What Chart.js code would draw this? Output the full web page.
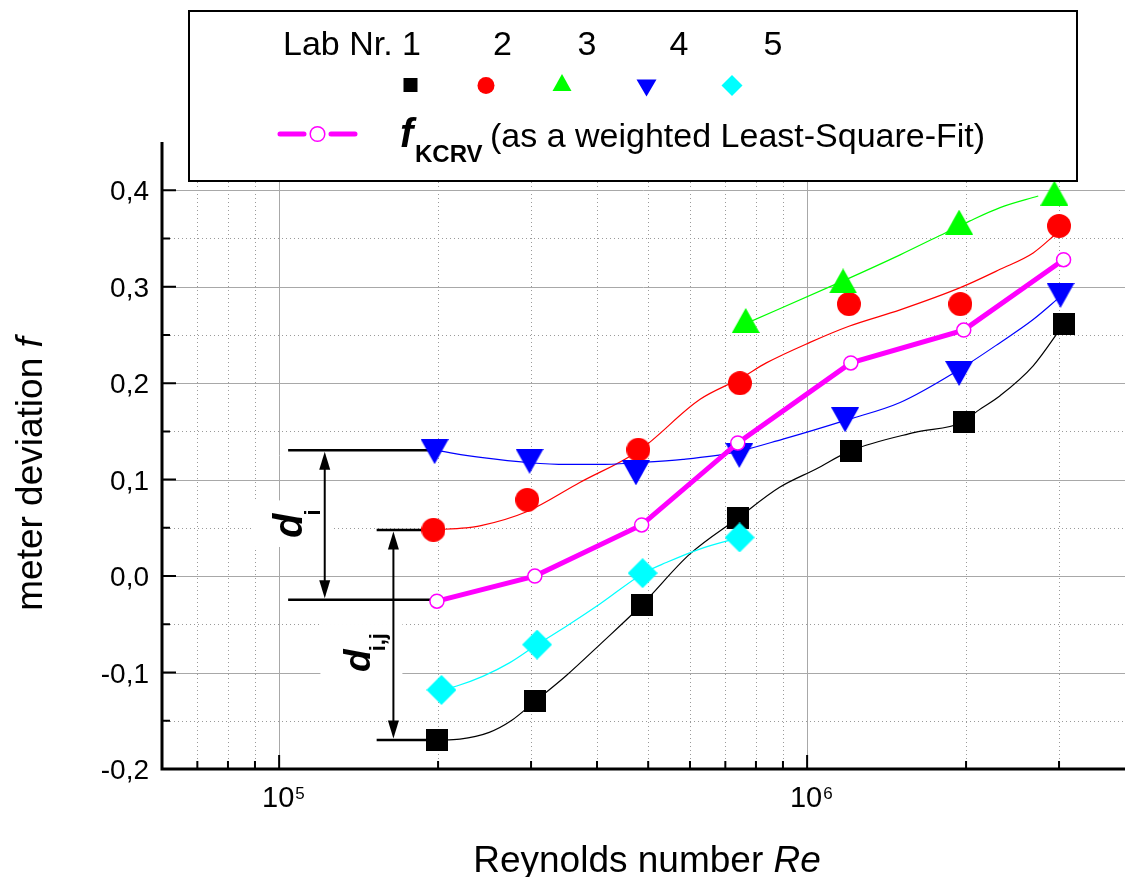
<!DOCTYPE html>
<html lang="en">
<head>
<meta charset="UTF-8">
<title>meter deviation f vs Reynolds number</title>
<script src="https://cdn.jsdelivr.net/npm/chart.js"></script>
<style>
  html, body { margin: 0; padding: 0; background: #fff; overflow: hidden; }
  #wrap { position: absolute; left: 0; top: 0; width: 1125px; height: 877px; }
</style>
</head>
<body>
<div id="wrap"><canvas id="devChart"></canvas></div>
<script>
// measured points: Reynolds number and meter deviation f per lab
const lab1Re = [1.99e5, 3.05e5, 4.86e5, 7.39e5, 1.21e6, 1.98e6, 3.06e6];
const lab1F  = [-0.170, -0.130, -0.030, 0.060, 0.130, 0.160, 0.261];
const lab2Re = [1.96e5, 2.95e5, 4.79e5, 7.46e5, 1.20e6, 1.95e6, 3.00e6];
const lab2F  = [0.048, 0.079, 0.131, 0.200, 0.282, 0.282, 0.363];
const lab3Re = [7.65e5, 1.17e6, 1.94e6, 2.94e6];
const lab3F  = [0.265, 0.306, 0.367, 0.397];
const lab4Re = [1.97e5, 2.98e5, 4.74e5, 7.44e5, 1.18e6, 1.94e6, 3.02e6];
const lab4F  = [0.129, 0.119, 0.107, 0.125, 0.162, 0.210, 0.291];
const lab5Re = [2.03e5, 3.08e5, 4.88e5, 7.45e5];
const lab5F  = [-0.118, -0.071, 0.003, 0.040];
const kcrvRe = [1.99e5, 3.05e5, 4.86e5, 7.39e5, 1.21e6, 1.98e6, 3.06e6];
const kcrvF  = [-0.026, 0.000, 0.053, 0.138, 0.221, 0.255, 0.328];

// thin fitted curves
const lab1FitRe = [1.99e5, 2.2e5, 2.5e5, 2.75e5, 3.05e5, 3.5e5, 4.05e5, 4.86e5, 6.0e5, 7.39e5, 8.87e5, 1.04e6, 1.21e6, 1.6e6, 1.98e6, 2.1e6, 2.32e6, 2.68e6, 3.06e6];
const lab1FitF  = [-0.170, -0.169, -0.162, -0.150, -0.130, -0.103, -0.071, -0.030, 0.023, 0.060, 0.092, 0.111, 0.130, 0.149, 0.160, 0.171, 0.187, 0.218, 0.261];
const lab2FitRe = [1.96e5, 2.26e5, 2.4e5, 2.95e5, 3.71e5, 4.80e5, 6.26e5, 7.48e5, 8.37e5, 1.01e6, 1.20e6, 1.50e6, 1.95e6, 2.32e6, 2.68e6, 2.92e6, 3.0e6];
const lab2FitF  = [0.048, 0.050, 0.052, 0.067, 0.097, 0.130, 0.183, 0.205, 0.221, 0.242, 0.259, 0.276, 0.299, 0.318, 0.335, 0.352, 0.358];
const lab3FitRe = [7.67e5, 1.17e6, 1.50e6, 1.83e6, 2.03e6, 2.32e6, 2.74e6];
const lab3FitF  = [0.262, 0.306, 0.333, 0.356, 0.368, 0.382, 0.394];
const lab4FitRe = [1.97e5, 2.43e5, 2.98e5, 3.50e5, 4.05e5, 4.75e5, 5.82e5, 7.24e5, 9.0e5, 1.19e6, 1.50e6, 1.94e6, 2.32e6, 2.68e6, 3.02e6];
const lab4FitF  = [0.1305, 0.1227, 0.1175, 0.1157, 0.1157, 0.1175, 0.121, 0.128, 0.142, 0.162, 0.180, 0.214, 0.242, 0.266, 0.290];
const lab5FitRe = [2.03e5, 2.17e5, 2.43e5, 2.73e5, 3.08e5, 3.50e5, 4.05e5, 4.90e5, 5.41e5, 6.26e5, 7.45e5];
const lab5FitF  = [-0.118, -0.114, -0.104, -0.090, -0.071, -0.052, -0.029, 0.003, 0.014, 0.028, 0.040];

// axis ticks
const xMajorTicks = [1e5, 1e6];
const xMinorTicks = [7e4, 8e4, 9e4, 2e5, 3e5, 4e5, 5e5, 6e5, 7e5, 8e5, 9e5, 2e6, 3e6];
const yMajorTicks = [-0.1, 0, 0.1, 0.2, 0.3, 0.4];
const yMinorTicks = [-0.15, -0.05, 0.05, 0.15, 0.25, 0.35];
const yLabelValues = [-0.2, -0.1, 0, 0.1, 0.2, 0.3, 0.4];
const yTickLabels = ['-0,2', '-0,1', '0,0', '0,1', '0,2', '0,3', '0,4'];
const labNames = ['1', '2', '3', '4', '5'];

const FONT = '"Liberation Sans", Arial, sans-serif';
const pts = (xs, ys) => xs.map((x, i) => ({ x: x, y: ys[i] }));

function drawMarker(ctx, kind, cx, cy, w, h, color) {
  ctx.fillStyle = color;
  ctx.beginPath();
  if (kind === 'square') {
    ctx.rect(cx - w / 2, cy - h / 2, w, h);
  } else if (kind === 'circle') {
    ctx.arc(cx, cy, w / 2, 0, Math.PI * 2);
  } else if (kind === 'up') {
    ctx.moveTo(cx, cy - h / 2); ctx.lineTo(cx + w / 2, cy + h / 2); ctx.lineTo(cx - w / 2, cy + h / 2);
  } else if (kind === 'down') {
    ctx.moveTo(cx - w / 2, cy - h / 2); ctx.lineTo(cx + w / 2, cy - h / 2); ctx.lineTo(cx, cy + h / 2);
  } else if (kind === 'diamond') {
    ctx.moveTo(cx, cy - h / 2); ctx.lineTo(cx + w / 2, cy); ctx.lineTo(cx, cy + h / 2); ctx.lineTo(cx - w / 2, cy);
  }
  ctx.closePath();
  ctx.fill();
}

function markerImage(kind, w, h, color) {
  const c = document.createElement('canvas');
  c.width = w; c.height = h;
  drawMarker(c.getContext('2d'), kind, w / 2, h / 2, w, h, color);
  return c;
}

function markerSet(label, xs, ys, img) {
  return { label: label, data: pts(xs, ys), showLine: false, pointStyle: img, pointRadius: 12, pointHoverRadius: 12 };
}

function fitLine(label, xs, ys, color) {
  return { label: label, data: pts(xs, ys), showLine: true, borderColor: color, borderWidth: 1.2,
           cubicInterpolationMode: 'monotone', pointRadius: 0, pointHoverRadius: 0 };
}

function arrowHead(ctx, px, tipY, dir) {
  ctx.beginPath();
  ctx.moveTo(px, tipY);
  ctx.lineTo(px - 5.5, tipY + dir * 18);
  ctx.lineTo(px + 5.5, tipY + dir * 18);
  ctx.closePath();
  ctx.fill();
}

// d_i and d_i,j markings (data coordinates)
const spans = [
  { arrowRe: 1.22e5, fromRe: 1.04e5, top: 0.1305, topEnd: 1.97e5, bottom: -0.0245, bottomEnd: 1.99e5,
    main: 'd', sub: 'i', mainSize: 40, labelStart: 0.0395, subDrop: 18 },
  { arrowRe: 1.646e5, fromRe: 1.53e5, top: 0.0477, topEnd: 1.96e5, bottom: -0.170, bottomEnd: 1.99e5,
    main: 'd', sub: 'i,j', mainSize: 37, labelStart: -0.0994, subDrop: 15 }
];

const figurePlugin = {
  id: 'figure',
  beforeDatasetsDraw(chart) {
    const { ctx, chartArea: a } = chart;
    const x = chart.scales.x, y = chart.scales.y;
    ctx.save();
    // dotted minor grid
    ctx.strokeStyle = '#9a9a9a';
    ctx.lineWidth = 1;
    ctx.setLineDash([1, 3]);
    ctx.beginPath();
    xMinorTicks.forEach(v => { const px = Math.round(x.getPixelForValue(v)) + 0.5; ctx.moveTo(px, a.top); ctx.lineTo(px, a.bottom); });
    yMinorTicks.forEach(v => { const py = Math.round(y.getPixelForValue(v)) + 0.5; ctx.moveTo(a.left, py); ctx.lineTo(a.right, py); });
    ctx.stroke();
    // solid major grid
    ctx.setLineDash([]);
    ctx.strokeStyle = '#a8a8a8';
    ctx.beginPath();
    xMajorTicks.forEach(v => { const px = Math.round(x.getPixelForValue(v)) + 0.5; ctx.moveTo(px, a.top); ctx.lineTo(px, a.bottom); });
    yMajorTicks.forEach(v => { const py = Math.round(y.getPixelForValue(v)) + 0.5; ctx.moveTo(a.left, py); ctx.lineTo(a.right, py); });
    ctx.stroke();

    // d labels with white background, lines and double arrows
    spans.forEach(s => {
      const ax = x.getPixelForValue(s.arrowRe);
      const base = ax - 23;
      const startY = y.getPixelForValue(s.labelStart);
      ctx.font = 'italic bold ' + s.mainSize + 'px ' + FONT;
      const wMain = ctx.measureText(s.main).width;
      ctx.font = 'bold 22px ' + FONT;
      const wSub = ctx.measureText(s.sub).width;
      const len = wMain - 2 + wSub;
      ctx.fillStyle = '#fff';
      ctx.fillRect(base - 50, startY - len - 9, 82, len + 18);

      ctx.save();
      ctx.translate(base, startY);
      ctx.rotate(-Math.PI / 2);
      ctx.fillStyle = '#000';
      ctx.textBaseline = 'alphabetic';
      ctx.textAlign = 'left';
      ctx.font = 'italic bold ' + s.mainSize + 'px ' + FONT;
      ctx.fillText(s.main, 0, 0);
      ctx.font = 'bold 22px ' + FONT;
      ctx.fillText(s.sub, wMain - 2, s.subDrop);
      ctx.restore();

      const x0 = x.getPixelForValue(s.fromRe);
      const yt = y.getPixelForValue(s.top), yb = y.getPixelForValue(s.bottom);
      ctx.strokeStyle = '#000';
      ctx.fillStyle = '#000';
      ctx.lineWidth = 2.5;
      ctx.beginPath();
      ctx.moveTo(x0, yt); ctx.lineTo(x.getPixelForValue(s.topEnd), yt);
      ctx.moveTo(x0, yb); ctx.lineTo(x.getPixelForValue(s.bottomEnd), yb);
      ctx.stroke();
      ctx.lineWidth = 2;
      ctx.beginPath();
      ctx.moveTo(ax, yt + 10); ctx.lineTo(ax, yb - 10);
      ctx.stroke();
      arrowHead(ctx, ax, yt + 1.5, 1);
      arrowHead(ctx, ax, yb - 1.5, -1);
    });
    ctx.restore();
  },
  afterDatasetsDraw(chart) {
    const { ctx, chartArea: a } = chart;
    const x = chart.scales.x, y = chart.scales.y;
    ctx.save();
    // axes
    ctx.strokeStyle = '#000';
    ctx.lineWidth = 3;
    ctx.beginPath();
    ctx.moveTo(a.left, a.top); ctx.lineTo(a.left, a.bottom + 1.5);
    ctx.moveTo(a.left - 1.5, a.bottom); ctx.lineTo(a.right, a.bottom);
    ctx.stroke();
    // inward ticks
    ctx.lineWidth = 2;
    ctx.beginPath();
    xMajorTicks.forEach(v => { const px = x.getPixelForValue(v); ctx.moveTo(px, a.bottom); ctx.lineTo(px, a.bottom - 14); });
    xMinorTicks.forEach(v => { const px = x.getPixelForValue(v); ctx.moveTo(px, a.bottom); ctx.lineTo(px, a.bottom - 8); });
    yMajorTicks.forEach(v => { const py = y.getPixelForValue(v); ctx.moveTo(a.left, py); ctx.lineTo(a.left + 14, py); });
    yMinorTicks.forEach(v => { const py = y.getPixelForValue(v); ctx.moveTo(a.left, py); ctx.lineTo(a.left + 8, py); });
    ctx.stroke();

    ctx.fillStyle = '#000';
    ctx.textBaseline = 'alphabetic';
    // y tick labels
    ctx.font = '28px ' + FONT;
    ctx.textAlign = 'right';
    yLabelValues.forEach((v, i) => ctx.fillText(yTickLabels[i], a.left - 13, y.getPixelForValue(v) + 10));
    // x tick labels 10^n
    xMajorTicks.forEach(v => {
      const px = x.getPixelForValue(v) - 1;
      ctx.font = '29px ' + FONT;
      ctx.textAlign = 'center';
      const w10 = ctx.measureText('10').width;
      ctx.fillText('10', px, a.bottom + 38);
      ctx.font = '17px ' + FONT;
      ctx.textAlign = 'left';
      ctx.fillText(String(Math.round(Math.log10(v))), px + w10 / 2 + 1, a.bottom + 30);
    });
    // x title
    ctx.font = '37px ' + FONT;
    const t1 = 'Reynolds number ';
    const w1 = ctx.measureText(t1).width;
    ctx.font = 'italic 37px ' + FONT;
    const w2 = ctx.measureText('Re').width;
    const sx = 647 - (w1 + w2) / 2;
    ctx.textAlign = 'left';
    ctx.font = '37px ' + FONT;
    ctx.fillText(t1, sx, 872);
    ctx.font = 'italic 37px ' + FONT;
    ctx.fillText('Re', sx + w1, 872);
    // y title
    ctx.save();
    ctx.translate(42, 474);
    ctx.rotate(-Math.PI / 2);
    ctx.font = '37px ' + FONT;
    const u1 = 'meter deviation ';
    const uw1 = ctx.measureText(u1).width;
    ctx.font = 'italic 37px ' + FONT;
    const uw2 = ctx.measureText('f').width;
    const us = -(uw1 + uw2) / 2;
    ctx.font = '37px ' + FONT;
    ctx.fillText(u1, us, 0);
    ctx.font = 'italic 37px ' + FONT;
    ctx.fillText('f', us + uw1, 0);
    ctx.restore();
    ctx.restore();
  },
  afterDraw(chart) {
    const ctx = chart.ctx;
    ctx.save();
    // legend box
    ctx.fillStyle = '#fff';
    ctx.fillRect(188, 10, 890, 172);
    ctx.strokeStyle = '#000';
    ctx.lineWidth = 2;
    ctx.strokeRect(189, 11, 888, 170);

    ctx.fillStyle = '#000';
    ctx.textBaseline = 'alphabetic';
    ctx.font = '34px ' + FONT;
    ctx.textAlign = 'right';
    ctx.fillText('Lab Nr. ' + labNames[0], 421, 55);
    ctx.textAlign = 'center';
    [502.5, 587, 679, 773].forEach((cx, i) => ctx.fillText(labNames[i + 1], cx, 55));

    drawMarker(ctx, 'square', 410.5, 85, 14, 14, '#000000');
    drawMarker(ctx, 'circle', 486, 85.5, 17, 17, '#ff0000');
    drawMarker(ctx, 'up', 562, 82.5, 19, 17, '#00ff00');
    drawMarker(ctx, 'down', 646.5, 88, 20, 17, '#0000ff');
    drawMarker(ctx, 'diamond', 732, 85.5, 21, 21, '#00ffff');

    // KCRV sample
    ctx.strokeStyle = '#ff00ff';
    ctx.lineWidth = 5;
    ctx.lineCap = 'round';
    ctx.beginPath();
    ctx.moveTo(280, 134); ctx.lineTo(304, 134);
    ctx.moveTo(331, 134); ctx.lineTo(355, 134);
    ctx.stroke();
    ctx.lineWidth = 1.5;
    ctx.fillStyle = '#fff';
    ctx.beginPath();
    ctx.arc(317.5, 134, 7.3, 0, Math.PI * 2);
    ctx.fill();
    ctx.stroke();

    ctx.fillStyle = '#000';
    ctx.textAlign = 'left';
    ctx.font = 'italic bold 40px ' + FONT;
    ctx.fillText('f', 400, 147);
    ctx.font = 'bold 24px ' + FONT;
    ctx.fillText('KCRV', 415, 162);
    ctx.font = '34px ' + FONT;
    ctx.fillText('(as a weighted Least-Square-Fit)', 490, 147);
    ctx.restore();
  }
};

const ctx = document.getElementById('devChart').getContext('2d');
new Chart(ctx, {
  type: 'scatter',
  data: {
    datasets: [
      {
        label: 'fKCRV', data: pts(kcrvRe, kcrvF), showLine: true, borderColor: '#ff00ff', borderWidth: 5, tension: 0,
        pointStyle: 'circle', pointRadius: 7, pointHoverRadius: 7, pointBorderWidth: 1.5,
        pointBackgroundColor: '#ffffff', pointBorderColor: '#ff00ff'
      },
      markerSet('Lab 5', lab5Re, lab5F, markerImage('diamond', 30, 30, '#00ffff')),
      markerSet('Lab 4', lab4Re, lab4F, markerImage('down', 28, 25, '#0000ff')),
      markerSet('Lab 3', lab3Re, lab3F, markerImage('up', 28, 25, '#00ff00')),
      markerSet('Lab 2', lab2Re, lab2F, markerImage('circle', 24, 24, '#ff0000')),
      markerSet('Lab 1', lab1Re, lab1F, markerImage('square', 22, 22, '#000000')),
      fitLine('Lab 5 fit', lab5FitRe, lab5FitF, '#00ffff'),
      fitLine('Lab 4 fit', lab4FitRe, lab4FitF, '#0000ff'),
      fitLine('Lab 3 fit', lab3FitRe, lab3FitF, '#00ff00'),
      fitLine('Lab 2 fit', lab2FitRe, lab2FitF, '#ff0000'),
      fitLine('Lab 1 fit', lab1FitRe, lab1FitF, '#000000')
    ]
  },
  options: {
    responsive: true,
    maintainAspectRatio: false,
    devicePixelRatio: 1,
    animation: false,
    events: [],
    layout: { autoPadding: false, padding: { left: 162, right: 0, top: 142, bottom: 108 } },
    scales: {
      x: { type: 'logarithmic', min: 6e4, max: 4e6, display: false },
      y: { type: 'linear', min: -0.2, max: 0.45, display: false }
    },
    plugins: {
      legend: { display: false },
      tooltip: { enabled: false }
    }
  },
  plugins: [figurePlugin]
});
</script>
</body>
</html>
